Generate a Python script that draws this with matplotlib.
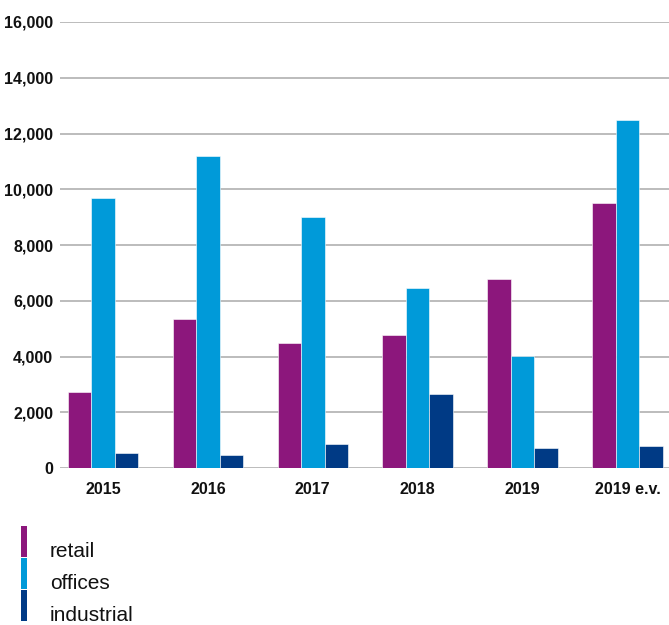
import matplotlib
matplotlib.use("Agg")
import matplotlib.pyplot as plt
from matplotlib.patches import Rectangle
from matplotlib.ticker import FuncFormatter
import numpy as np

plt.rcParams['font.family'] = ['Liberation Sans', 'DejaVu Sans']

years = ["2015", "2016", "2017", "2018", "2019", "2019 e.v."]
retail = [2730, 5350, 4500, 4770, 6780, 9510]
offices = [9700, 11200, 9000, 6460, 4020, 12480]
industrial = [540, 450, 860, 2650, 720, 790]

series_names = ["retail", "offices", "industrial"]
colors = ["#8C177C", "#009AD9", "#003A85"]

W, H = 669, 625
fig = plt.figure(figsize=(W / 100, H / 100), dpi=100)
ax = fig.add_axes([60 / W, 1 - 468 / H, (W - 60) / W, (468 - 22) / H])

x = np.arange(len(years))
bw = 0.224
for i, (vals, c) in enumerate(zip([retail, offices, industrial], colors)):
    ax.bar(x + (i - 1) * bw, vals, width=bw, color=c, edgecolor="white",
           linewidth=0.4, zorder=3)

ax.set_xlim(-0.41, 5.396)
ax.set_ylim(0, 16000)
ax.set_yticks(np.arange(0, 16001, 2000))
ax.yaxis.set_major_formatter(FuncFormatter(lambda v, p: f"{int(v):,}"))
ax.grid(axis="y", color="#AAAAAA", linewidth=1.1, zorder=0)
ax.set_xticks(x)
ax.set_xticklabels(years)
for s in ax.spines.values():
    s.set_visible(False)
ax.tick_params(axis="both", length=0, labelsize=11.5)
ax.tick_params(axis="y", pad=5)
ax.tick_params(axis="x", pad=10)
for lab in ax.get_xticklabels() + ax.get_yticklabels():
    lab.set_fontweight("bold")
    lab.set_color("#111111")

# Legend drawn as stacked colour strips with labels beside them
tops = [526, 558, 590]
seg_h = 31
for name, c, t in zip(series_names, colors, tops):
    fig.patches.append(Rectangle((20.5 / W, 1 - (t + seg_h) / H), 6.5 / W, seg_h / H,
                                 transform=fig.transFigure, color=c, linewidth=0))
    fig.text(50 / W, 1 - (t + seg_h) / H, name, fontsize=15, color="#111111",
             va="baseline", ha="left")

fig.savefig("out.png", dpi=100)
